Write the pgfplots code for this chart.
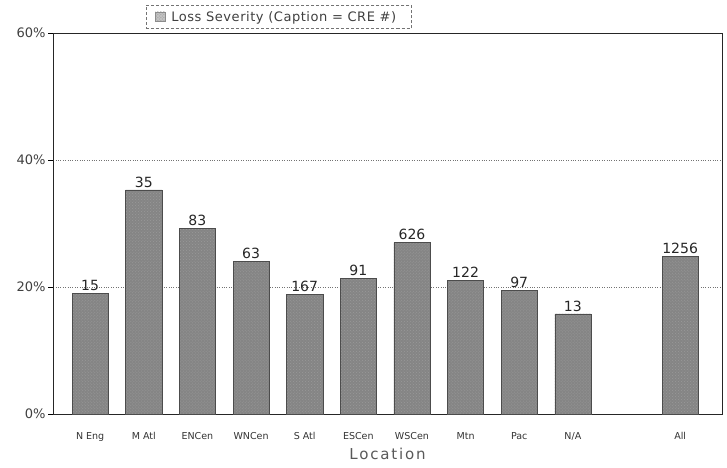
\documentclass[border=0pt]{standalone}
\usepackage{pgfplots}
\pgfplotsset{compat=1.18}
\usepackage{pgfplotstable}
\usepackage{fontspec}
\setmainfont{DejaVu Sans}
\newfontfamily\widefont[LetterSpace=12]{DejaVu Sans}
\newfontfamily\legendfont[LetterSpace=4]{DejaVu Sans}
\usetikzlibrary{patterns}

% loss severity by location; n = number of CRE records
\pgfplotstableread{
x  y     n
0  19.0  15
1  35.3  35
2  29.3  83
3  24.1  63
4  18.8  167
5  21.4  91
6  27.0  626
7  21.1  122
8  19.5  97
9  15.8  13
11 24.8  1256
}\severity

\definecolor{barfill}{gray}{0.52}
\definecolor{barline}{gray}{0.30}

\begin{document}
\begin{tikzpicture}[x=1pt,y=1pt]
\begin{axis}[
  scale only axis,
  width=667pt, height=380pt,
  xmin=-0.69, xmax=11.78,
  ymin=0, ymax=60,
  ytick={0,20,40,60},
  ytick pos=left,
  yticklabel={\pgfmathprintnumber{\tick}\%},
  /pgf/number format/assume math mode=true,
  xtick={0,1,2,3,4,5,6,7,8,9,11},
  xticklabels={N Eng,M Atl,ENCen,WNCen,S Atl,ESCen,WSCen,Mtn,Pac,N/A,All},
  x tick style={draw=none},
  y tick style={black, line width=0.6pt},
  tick align=outside,
  major tick length=5pt,
  xticklabel style={font=\fontsize{9.5}{10}\selectfont, yshift=-10pt, text=black!80},
  yticklabel style={font=\fontsize{13}{14}\selectfont, text=black!75, xshift=1pt},
  ymajorgrids,
  grid style={black!55, dotted, line width=0.5pt},
  axis line style={black!85, line width=0.6pt},
  xlabel={\widefont Location},
  xlabel style={font=\fontsize{15}{16}\selectfont, text=black!65, yshift=0pt},
  legend style={at={(0.337,1.074)}, anchor=north, draw=black!55, densely dashed,
    font=\fontsize{13}{14}\selectfont\legendfont, text=black!75, inner xsep=9pt, inner ysep=4pt,
    legend cell align=left,
    nodes={inner xsep=6pt}},
  legend image code/.code={\draw[solid, fill=barfill!50, draw=black!45] (0.05cm,-0.17cm) rectangle (0.4cm,0.17cm);},
  nodes near coords,
  point meta=explicit symbolic,
  every node near coord/.append style={font=\fontsize{14}{15}\selectfont, text=black!85, yshift=-1pt},
]
\addplot[ybar, bar width=36pt, fill=barfill, draw=barline, line width=0.5pt,
  postaction={pattern=crosshatch dots, pattern color=black!40}]
  table[x=x, y=y, meta=n] {\severity};
\addlegendentry{Loss Severity (Caption = CRE \#)}
\end{axis}
\path ([xshift=-53pt,yshift=-53pt]current axis.south west) rectangle ([xshift=5pt,yshift=33pt]current axis.north east);
\end{tikzpicture}
\end{document}
